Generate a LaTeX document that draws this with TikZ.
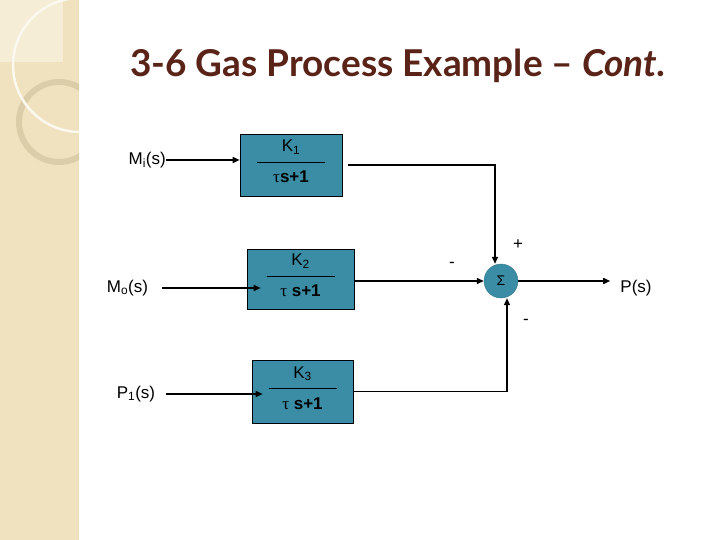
\documentclass[tikz,border=0pt]{standalone}
\usepackage{fontspec}
\setmainfont{Liberation Sans}
\newfontfamily\titlefont{Lato}
\newfontfamily\greekfont{Liberation Serif}
\usepackage{tikz}
\usetikzlibrary{arrows.meta, positioning, calc}
\definecolor{stripbeige}{HTML}{F0E2BE}
\definecolor{stripwhite}{HTML}{F6EDD7}
\definecolor{ringtan}{HTML}{DACDA8}
\definecolor{blockteal}{HTML}{3A8DA4}
\definecolor{titlebrown}{HTML}{5A2317}
\newcommand{\gasfrac}[2]{K\textsubscript{#1}\\[-8bp]\rule{68bp}{0.9bp}\\[1bp]#2\rule[-7bp]{0pt}{0pt}}
\newcommand{\tauc}{{\greekfont τ}}

\begin{document}
\begin{tikzpicture}[x=1bp, y=-1bp,
    every node/.style={font=\fontsize{17bp}{19bp}\selectfont, inner sep=0pt},
    block/.style={draw, fill=blockteal, line width=0.6pt, align=center},
    arrow/.style={-{Triangle[length=7bp, width=6bp]}, line width=1.5bp}
]
    \useasboundingbox (0,0) rectangle (720,540);

    % left strip
    \fill[stripbeige] (0,0) rectangle (79,540);
    \fill[stripwhite] (0,0) rectangle (63,62);
    \begin{scope}
        \clip (0,0) rectangle (79,540);
        \draw[ringtan, line width=6bp] (59,122) circle (40);
        \draw[white!75!stripbeige, line width=2.5bp] (80,65) circle (67);
    \end{scope}

    \node[anchor=base, text=titlebrown, font=\titlefont\bfseries\fontsize{37bp}{40bp}\selectfont] (title) at (398,77) {3-6 Gas Process Example – \textit{Cont.}};

    % blocks
    \node[block, minimum width=102bp, minimum height=62bp] (k1) at (291,165) {\gasfrac{1}{\tauc\textbf{s+1}}};
    \node[block, minimum width=107bp, minimum height=60bp] (k2) at (300.5,279) {\gasfrac{2}{\tauc\ \textbf{s+1}}};
    \node[block, minimum width=101bp, minimum height=63bp] (k3) at (302.5,391.5) {\gasfrac{3}{\tauc\ \textbf{s+1}}};
    \node[circle, draw=blockteal!85!black, fill=blockteal, minimum size=34bp] (sum) at (501,281) {\fontsize{14bp}{16bp}\selectfont Σ};

    % signals
    \node[anchor=east] (mi) at (166,160) {M\textsubscript{i}(s)};
    \node (mo) at (127.5,288) {M\textsubscript{o}(s)};
    \node (p1) at (136,394) {P\textsubscript{1}(s)};
    \node (ps) at (636,288) {P(s)};

    \node (sgnk2) at (452,265) {-};
    \node (sgnk1) at (518,245) {+};
    \node (sgnk3) at (526,322) {-};

    \draw[arrow] (mi.east) -- (mi.east -| k1.west);
    \draw[arrow] ([xshift=14bp]mo.east) -- ([xshift=14bp]mo.east -| k2.west);
    \draw[arrow] ([xshift=11bp]p1.east) -- ([xshift=11bp]p1.east -| k3.west);

    \draw[arrow] ([xshift=6bp]k1.east) -| ([xshift=-6bp]sum.north);
    \draw[arrow] (k2.east |- sum) -- (sum);
    \draw[arrow] (k3.east) -| ([xshift=6bp]sum.south);
    \draw[arrow, shorten >=10bp] (sum) -- (sum -| ps.west);
\end{tikzpicture}
\end{document}
